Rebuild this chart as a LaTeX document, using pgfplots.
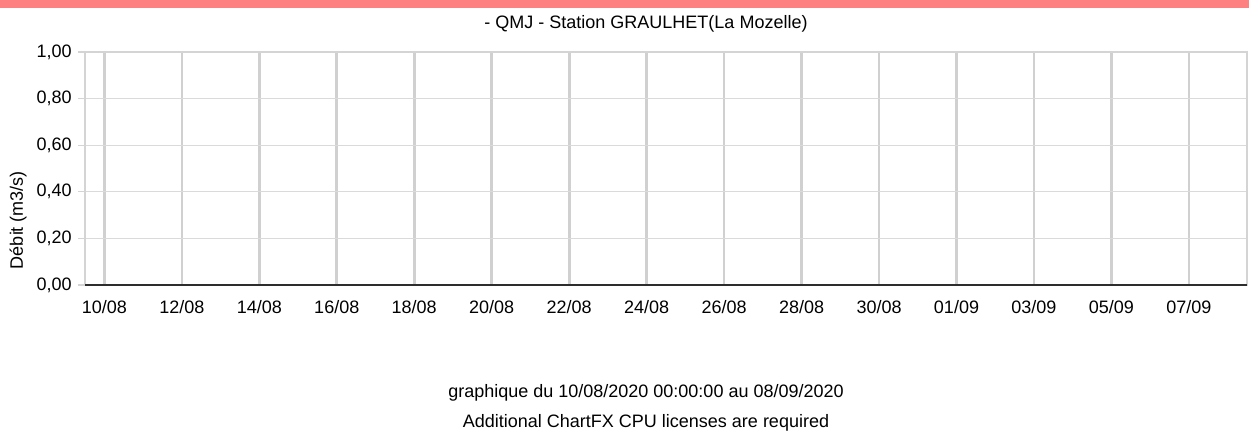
\documentclass[border=0pt]{standalone}
\usepackage{pgfplots}
\pgfplotsset{compat=1.18}
\usepackage{fontspec}
\setmainfont{Liberation Sans}
\definecolor{topbar}{RGB}{255,128,128}
\definecolor{vgrid}{RGB}{208,208,208}
\definecolor{hgrid}{RGB}{218,218,218}
\definecolor{framec}{RGB}{212,212,212}
\definecolor{baseln}{RGB}{45,45,45}
\begin{document}
\fontsize{13.5}{16}\selectfont
\begin{tikzpicture}
\path[use as bounding box] (0,0) rectangle (936.75pt,324.75pt);
\fill[topbar] (0,318.75pt) rectangle (936.75pt,324.75pt);
\begin{axis}[
  at={(63.75pt,111pt)}, anchor=south west,
  scale only axis, width=871.5pt, height=174.75pt,
  xmin=-0.5, xmax=29.5, ymin=0, ymax=1,
  xtick={0,2,...,28},
  xticklabels={10/08,12/08,14/08,16/08,18/08,20/08,22/08,24/08,26/08,28/08,30/08,01/09,03/09,05/09,07/09},
  ytick={0,0.2,0.4,0.6,0.8,1},
  yticklabels={{0,00},{0,20},{0,40},{0,60},{0,80},{1,00}},
  xmajorgrids, ymajorgrids,
  x grid style={vgrid, line width=2pt},
  y grid style={hgrid, line width=0.9pt},
  axis line style={framec, line width=0.9pt},
  tick align=outside,
  major tick length=5.25pt,
  xtick pos=bottom, ytick pos=left,
  xtick style={draw=none},
  ytick style={framec, line width=0.9pt},
  yticklabel style={anchor=east, inner sep=0pt, xshift=-4.5pt, font=\fontsize{13.5}{16}\selectfont},
  xticklabel style={anchor=base, inner sep=0pt, yshift=-15.75pt, font=\fontsize{13.5}{16}\selectfont},
  clip=false,
]
\draw[baseln, line width=1.6pt] (axis cs:-0.5,0) -- (axis cs:29.5,0);
\end{axis}
\node[anchor=base, inner sep=0pt] at (484.5pt,303pt) {- QMJ - Station GRAULHET(La Mozelle)};
\node[anchor=center, inner sep=0pt, rotate=90] at (13.5pt,159.75pt) {Débit (m3/s)};
\node[anchor=base, inner sep=0pt] at (484.5pt,27pt) {graphique du 10/08/2020 00:00:00 au 08/09/2020};
\node[anchor=base, inner sep=0pt] at (484.5pt,4.5pt) {Additional ChartFX CPU licenses are required};
\end{tikzpicture}
\end{document}
